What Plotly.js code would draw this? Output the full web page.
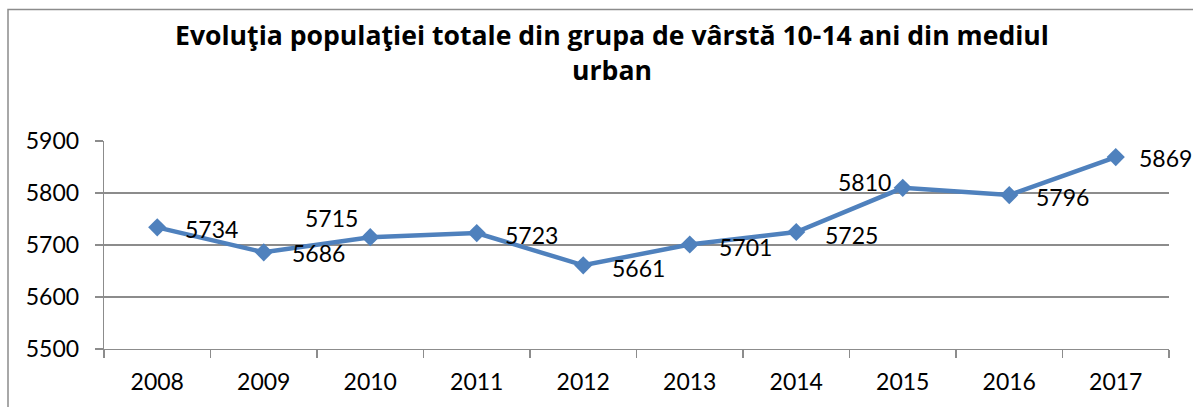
<!DOCTYPE html>
<html>
<head>
<meta charset="utf-8">
<script src="https://cdn.plot.ly/plotly-3.0.1.min.js"></script>
<style>
html,body{margin:0;padding:0;background:#fff;}
#chart{width:1193px;height:407px;}
</style>
</head>
<body>
<div id="chart"></div>
<script>
const years = ['2008','2009','2010','2011','2012','2013','2014','2015','2016','2017'];
const population = [5734, 5686, 5715, 5723, 5661, 5701, 5725, 5810, 5796, 5869];
const yTicks = [5500, 5600, 5700, 5800, 5900];
const titleText = 'Evoluţia populaţiei totale din grupa de vârstă 10-14 ani din mediul<br>urban';
// label placement per point: anchor side of the text and pixel shifts
const labelSide = ['left','left','right','left','left','left','left','right','left','left'];
const labelDx = [26, 26, -10, 26, 27, 27, 27, -10, 25, 21];
const labelDy = [-2, -1, 19, -2, -3, -3, -3, 6, -2, -1];

const FONT = 'Lato, "Open Sans", sans-serif';
const TFONT = '"Open Sans", Lato, sans-serif';
const grid = '#8c8c8c';
const blue = '#4F81BD';

const annotations = years.map((y, i) => ({
  x: i, y: population[i], xref: 'x', yref: 'y',
  text: String(population[i]), showarrow: false,
  xanchor: labelSide[i], yanchor: 'middle',
  xshift: labelDx[i], yshift: labelDy[i],
  font: {family: FONT, size: 23, color: '#000'}
}));

const trace = {
  x: years, y: population, type: 'scatter', mode: 'lines+markers',
  line: {color: blue, width: 4.5},
  marker: {symbol: 'diamond', size: 14, color: blue},
  hoverinfo: 'x+y'
};

const layout = {
  width: 1193, height: 407,
  margin: {l: 104, r: 24, t: 141, b: 58, pad: 0},
  paper_bgcolor: '#fff', plot_bgcolor: '#fff',
  showlegend: false,
  title: {
    text: '<b>' + titleText + '</b>',
    font: {family: TFONT, size: 26.6, color: '#000'},
    x: 612 / 1193, xanchor: 'center', xref: 'container',
    y: 1 - 45 / 407, yanchor: 'top', yref: 'container'
  },
  xaxis: {
    type: 'category', range: [-0.5, years.length - 0.5], autorange: false,
    tickson: 'boundaries', ticks: 'outside', ticklen: 8,
    tickcolor: grid, tickwidth: 1.3,
    showline: true, linecolor: grid, linewidth: 1.3,
    showgrid: false, zeroline: false, tickangle: 0,
    tickfont: {family: FONT, size: 23, color: '#000'},
    ticklabelstandoff: 12
  },
  yaxis: {
    range: [5500, 5900], autorange: false, tickvals: yTicks, ticktext: yTicks.map(String),
    ticks: 'outside', ticklen: 8, tickcolor: grid, tickwidth: 1.3,
    showline: true, linecolor: grid, linewidth: 1.3,
    showgrid: true, gridcolor: grid, gridwidth: 1.3, zeroline: false,
    tickfont: {family: FONT, size: 23, color: '#000'},
    ticklabelstandoff: 11
  },
  annotations: annotations,
  shapes: [{
    type: 'rect', xref: 'paper', yref: 'paper',
    x0: (8 - 104) / 1065, x1: (1205 - 104) / 1065,
    y0: (349 - 415) / 208, y1: (349 - 9.5) / 208,
    line: {color: '#8c8c8c', width: 1.5}, fillcolor: 'rgba(0,0,0,0)', layer: 'below'
  }]
};

Plotly.newPlot('chart', [trace], layout, {displayModeBar: false, staticPlot: true});
</script>
</body>
</html>
